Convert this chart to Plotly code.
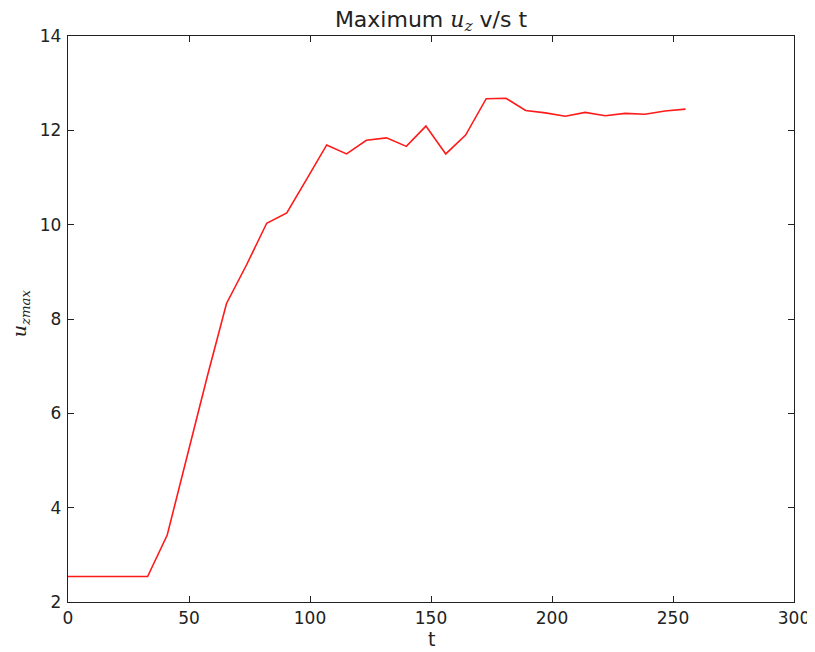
import plotly.graph_objects as go

t = [0, 8.2, 16.5, 24.7, 32.9, 41.0, 49.4, 57.6, 65.5, 73.8, 82.1, 90.4, 98.7,
     106.9, 115.1, 123.3, 131.6, 139.8, 147.9, 156.1, 164.3, 172.8, 181.0,
     189.1, 197.3, 205.5, 213.7, 222.0, 230.2, 238.4, 246.7, 255.2]
uz_max = [2.54, 2.54, 2.54, 2.54, 2.54, 3.42, 5.14, 6.79, 8.33, 9.15, 10.03, 10.25, 10.97,
          11.69, 11.50, 11.79, 11.84, 11.66, 12.09, 11.50, 11.90, 12.67, 12.68,
          12.42, 12.37, 12.30, 12.38, 12.31, 12.36, 12.34, 12.41, 12.45]

x_ticks = [0, 50, 100, 150, 200, 250, 300]
y_ticks = [2, 4, 6, 8, 10, 12, 14]

# The page body has an 8px margin, so the figure is placed with that offset in mind.
W, H = 807, 644

fig = go.Figure()
fig.add_trace(go.Scatter(x=t, y=uz_max, mode="lines",
                         line=dict(color="#ff1a1a", width=1.6), showlegend=False))

axis_common = dict(showgrid=False, zeroline=False, showline=True, linecolor="#222",
                   linewidth=1.3, mirror="ticks", ticks="inside", ticklen=6,
                   tickwidth=1, tickcolor="#222", automargin=False,
                   ticklabeloverflow="allow",
                   tickfont=dict(family="DejaVu Sans", size=17, color="#222"))

fig.update_xaxes(range=[0, 300], tickvals=x_ticks, ticktext=[str(v) for v in x_ticks],
                 **axis_common)
fig.update_yaxes(range=[2, 14], tickvals=y_ticks, ticktext=[str(v) for v in y_ticks],
                 ticklabelstandoff=2, **axis_common)

fig.add_annotation(xref="paper", yref="paper", x=0.5, y=-(639 - 602) / 566,
                   text="t", showarrow=False, xanchor="center", yanchor="middle",
                   font=dict(family="DejaVu Sans", size=19, color="#222"))

fig.add_annotation(xref="paper", yref="paper", x=(20 - 68) / 726, y=0.51,
                   text="<i>u</i><sub><i>zmax</i></sub>",
                   textangle=-90, showarrow=False, xanchor="center", yanchor="middle",
                   font=dict(family="DejaVu Serif", size=19, color="#222"))

fig.update_layout(
    template="none",
    width=W, height=H,
    margin=dict(l=60, r=21, t=28, b=50, autoexpand=False),
    paper_bgcolor="white", plot_bgcolor="white",
    title=dict(text="Maximum <span style='font-family:DejaVu Serif'><i>u</i><sub><i>z</i></sub></span> v/s t",
               x=0.5, xref="paper", xanchor="center", y=1 - 11 / H, yanchor="middle",
               font=dict(family="DejaVu Sans", size=22, color="#222")),
)

fig.write_html("out.html")
